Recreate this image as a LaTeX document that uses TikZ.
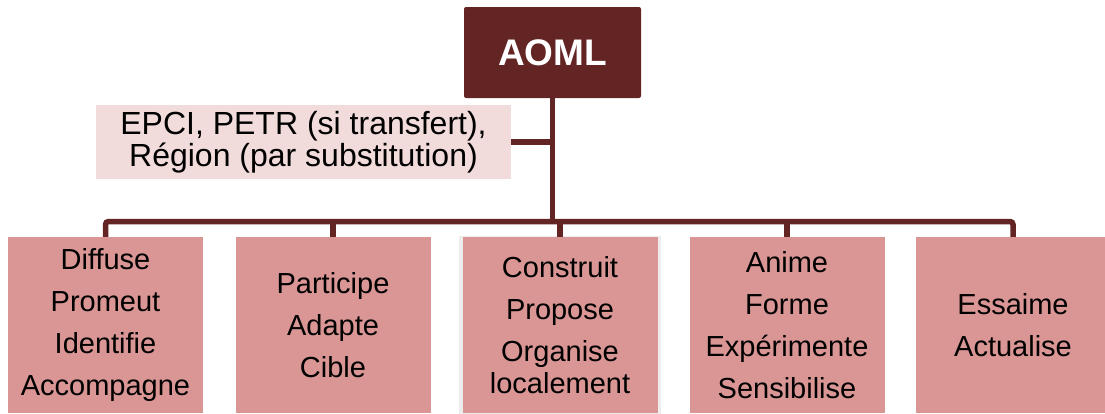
\documentclass[tikz,border=0pt]{standalone}
\usepackage{fontspec}
\setmainfont{Liberation Sans}
\definecolor{dark}{HTML}{632523}
\definecolor{boxfill}{HTML}{D99694}
\definecolor{lblfill}{HTML}{F2DCDB}
\begin{document}
\begin{tikzpicture}[x=1pt,y=-1pt,
 topbox/.style={fill=dark, rounded corners=2pt, minimum width=177pt, minimum height=91pt, inner sep=0pt, text=white, font=\fontsize{37}{37}\selectfont\bfseries},
 lblbox/.style={fill=lblfill, minimum width=415pt, minimum height=74pt, inner sep=0pt, align=center, font=\fontsize{32}{31.5}\selectfont},
 actbox/.style={fill=boxfill, minimum width=195pt, minimum height=176pt, inner sep=0pt, align=center, font=\fontsize{29}{32}\selectfont},
 link/.style={draw=dark, line width=5.5pt},
]
\useasboundingbox (0,0) rectangle (1105,413);
\node[topbox] (top) at (552.5,52.5) {AOML};
\node[lblbox] (lbl) at (303.5,142) {EPCI, PETR (si transfert),\\Région (par substitution)};
\fill[black!7] (459,236) rectangle (661,415);
\node[actbox] (b1) at (105.5,325) {Diffuse\\[10pt]Promeut\\[10pt]Identifie\\[10pt]Accompagne};
\node[actbox] (b2) at (333,325) {Participe\\[10pt]Adapte\\[10pt]Cible};
\node[actbox] (b3) at (560,325) {Construit\\[10pt]Propose\\[10pt]Organise\\localement};
\node[actbox] (b4) at (787,325) {Anime\\[10pt]Forme\\[10pt]Expérimente\\[10pt]Sensibilise};
\node[actbox] (b5) at (1013,325) {Essaime\\[10pt]Actualise};
\coordinate (bus) at (0,221.5);
\draw[link] (top.south) -- (top.south |- bus);
\draw[link] (lbl.east) -- (lbl.east -| top.south);
\draw[link, rounded corners=3pt] (b1.north) -- (b1.north |- bus) -- (b5.north |- bus) -- (b5.north);
\draw[link] (b2.north |- bus) -- (b2.north);
\draw[link] (b3.north |- bus) -- (b3.north);
\draw[link] (b4.north |- bus) -- (b4.north);
\end{tikzpicture}
\end{document}
